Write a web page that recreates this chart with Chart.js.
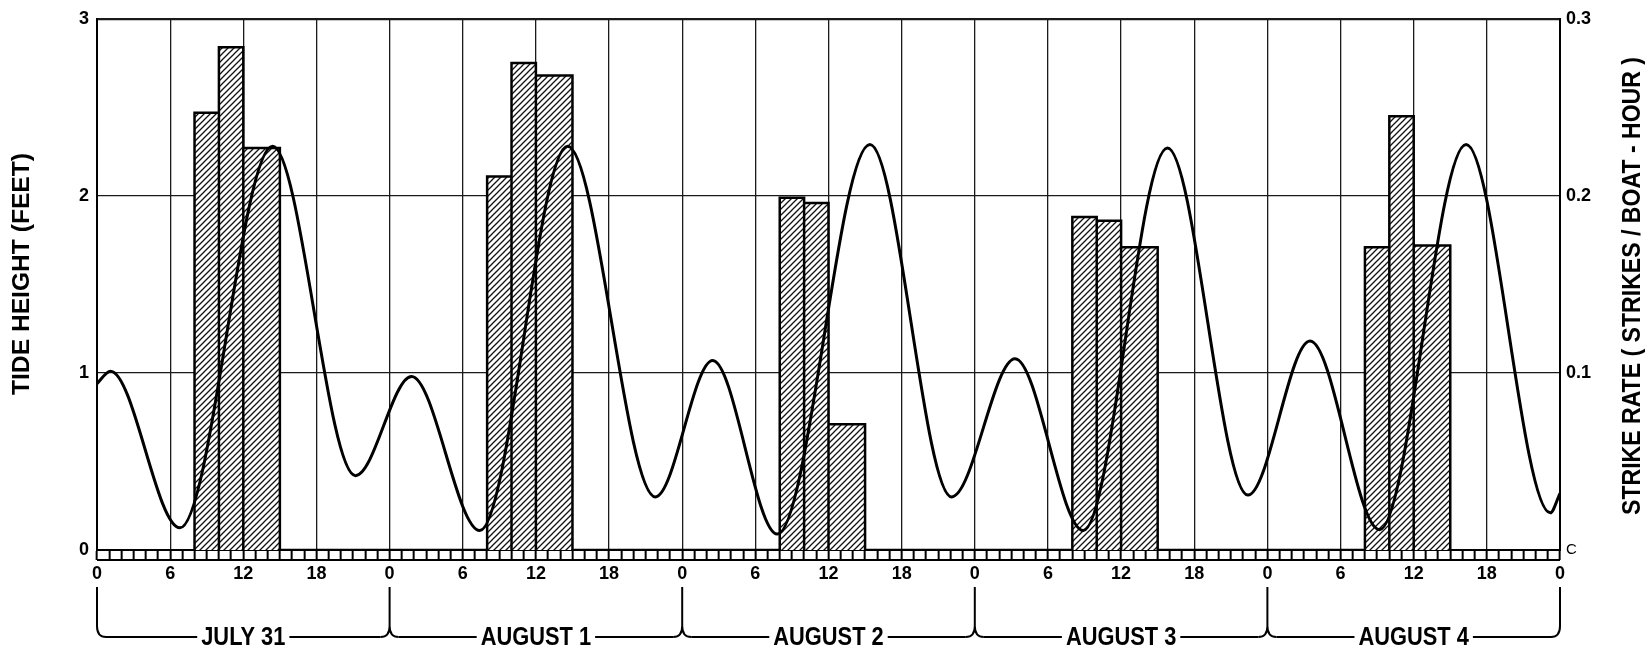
<!DOCTYPE html>
<html>
<head>
<meta charset="utf-8">
<script src="https://cdn.jsdelivr.net/npm/chart.js@4/dist/chart.umd.min.js"></script>
<style>
  html, body { margin: 0; padding: 0; background: #fff; }
</style>
</head>
<body>
<canvas id="tideChart" width="1647" height="652"></canvas>
<script>
const dayLabels = ["JULY 31", "AUGUST 1", "AUGUST 2", "AUGUST 3", "AUGUST 4"];

// tide highs and lows (hours from 0h July 31, feet)
const tideHours = [0, 1.1, 6.8, 14.4, 21.2,
    25.8, 31.4, 38.6, 45.8,
    50.5, 55.8, 63.4, 70.1,
    75.3, 80.9, 87.8, 94.4,
    99.5, 105.2, 112.3, 119.2, 120];
const tideFeet = [0.94, 1.01, 0.125, 2.28, 0.42,
    0.98, 0.11, 2.28, 0.30,
    1.07, 0.09, 2.29, 0.30,
    1.08, 0.11, 2.27, 0.31,
    1.18, 0.115, 2.29, 0.21, 0.32];

// fishing periods (hour of day) and strike rate per day
const binStart = [8, 10, 12];
const binEnd = [10, 12, 15];
const strikeRate = [
    [0.247, 0.284, 0.227],
    [0.211, 0.275, 0.268],
    [0.199, 0.196, 0.071],
    [0.188, 0.186, 0.171],
    [0.171, 0.245, 0.172]
];

const leftTicks = [0, 1, 2, 3];
const rightTicks = ["C", "0.1", "0.2", "0.3"];

const FONT = "'Liberation Sans', Arial, sans-serif";
Chart.defaults.font.family = FONT;
Chart.defaults.color = "#000";

const tidePoints = tideHours.map((h, i) => ({ x: h, y: tideFeet[i] }));

// outline of the bars, traced along the baseline from one day to the next
const barPoints = [];
dayLabels.forEach((d, i) => {
    binStart.forEach((s, j) => {
        const x0 = i * 24 + s;
        const x1 = i * 24 + binEnd[j];
        const v = strikeRate[i][j];
        barPoints.push({ x: x0, y: 0 }, { x: x0, y: v }, { x: x1, y: v }, { x: x1, y: 0 });
    });
});

function makeHatch() {
    const size = 6;
    const c = document.createElement("canvas");
    c.width = size; c.height = size;
    const g = c.getContext("2d");
    g.fillStyle = "#fff";
    g.fillRect(0, 0, size, size);
    g.strokeStyle = "#111";
    g.lineWidth = 1.3;
    g.beginPath();
    g.moveTo(-1, size + 1); g.lineTo(size + 1, -1);
    g.moveTo(-2, 2); g.lineTo(2, -2);
    g.moveTo(size - 2, size + 2); g.lineTo(size + 2, size - 2);
    g.stroke();
    return g.createPattern(c, "repeat");
}

function fitText(ctx, text, cx, cy, size, width, angle) {
    ctx.save();
    ctx.font = "bold " + size + "px " + FONT;
    ctx.translate(cx, cy);
    ctx.rotate(angle);
    ctx.scale(width / ctx.measureText(text).width, 1);
    ctx.textAlign = "center";
    ctx.textBaseline = "middle";
    ctx.fillText(text, 0, 0);
    ctx.restore();
}

const frameLabels = {
    id: "frameLabels",
    afterDraw(chart) {
        const { ctx, chartArea } = chart;
        const x = chart.scales.x;
        ctx.save();
        ctx.strokeStyle = "#000";
        ctx.fillStyle = "#000";

        // bottom rail of the hour ladder
        ctx.lineWidth = 2;
        ctx.beginPath();
        ctx.moveTo(x.left, chartArea.bottom + 10);
        ctx.lineTo(x.right, chartArea.bottom + 10);
        ctx.stroke();

        // day brackets
        const yTop = 587, yBend = 626, yLine = 637, r = 9;
        ctx.lineWidth = 2;
        ctx.beginPath();
        for (let b = 0; b <= dayLabels.length; b++) {
            const xb = x.getPixelForValue(b * 24);
            ctx.moveTo(xb, yTop);
            ctx.lineTo(xb, yBend);
            if (b > 0) {
                ctx.moveTo(xb, yBend);
                ctx.quadraticCurveTo(xb, yLine, xb - r, yLine);
            }
            if (b < dayLabels.length) {
                ctx.moveTo(xb, yBend);
                ctx.quadraticCurveTo(xb, yLine, xb + r, yLine);
            }
        }
        ctx.stroke();

        const sx = 0.84;
        ctx.font = "bold 26px " + FONT;
        dayLabels.forEach((label, i) => {
            const x0 = x.getPixelForValue(i * 24);
            const x1 = x.getPixelForValue((i + 1) * 24);
            const mid = (x0 + x1) / 2;
            const w = ctx.measureText(label).width * sx;
            ctx.beginPath();
            ctx.moveTo(x0 + r, yLine);
            ctx.lineTo(mid - w / 2 - 4, yLine);
            ctx.moveTo(mid + w / 2 + 4, yLine);
            ctx.lineTo(x1 - r, yLine);
            ctx.stroke();
            ctx.save();
            ctx.translate(mid, yLine + 1);
            ctx.scale(sx, 1);
            ctx.textAlign = "center";
            ctx.textBaseline = "middle";
            ctx.fillText(label, 0, 0);
            ctx.restore();
        });

        // axis titles, both read bottom to top
        fitText(ctx, "TIDE HEIGHT (FEET)", 22, 274, 24, 242, -Math.PI / 2);
        fitText(ctx, "STRIKE RATE ( STRIKES / BOAT - HOUR )", 1633, 286, 26, 458, -Math.PI / 2);
        ctx.restore();
    }
};

new Chart(document.getElementById("tideChart"), {
    type: "line",
    data: {
        datasets: [{
            label: "Tide height",
            data: tidePoints,
            yAxisID: "y",
            borderColor: "#000",
            borderWidth: 3,
            pointRadius: 0,
            cubicInterpolationMode: "monotone",
            fill: false,
            order: 0
        }, {
            label: "Strike rate",
            data: barPoints,
            yAxisID: "y2",
            borderColor: "#000",
            borderWidth: 2.5,
            borderJoinStyle: "miter",
            pointRadius: 0,
            tension: 0,
            fill: "origin",
            backgroundColor: makeHatch(),
            order: 1
        }]
    },
    options: {
        responsive: false,
        animation: false,
        layout: { padding: { top: 17 } },
        plugins: {
            legend: { display: false },
            tooltip: { enabled: false }
        },
        scales: {
            x: {
                type: "linear",
                min: 0,
                max: 120,
                afterFit: (s) => { s.height = 102; },
                ticks: {
                    stepSize: 1,
                    autoSkip: false,
                    maxRotation: 0,
                    padding: 3,
                    font: { size: 18, weight: "bold" },
                    callback: (v) => (v % 6 === 0 ? String(v % 24) : "")
                },
                grid: {
                    color: (c) => (c.tick && c.tick.value % 6 === 0 ? "#1a1a1a" : "rgba(0,0,0,0)"),
                    lineWidth: 1.3,
                    tickColor: "#000",
                    tickLength: 10,
                    tickWidth: 2
                },
                border: { color: "#000", width: 2 }
            },
            y: {
                position: "left",
                min: 0,
                max: 3,
                afterFit: (s) => { s.width = 97; },
                afterBuildTicks: (s) => { s.ticks = leftTicks.map((v) => ({ value: v })); },
                ticks: { padding: 8, font: { size: 18, weight: "bold" } },
                grid: {
                    color: "#1a1a1a",
                    lineWidth: (c) => (c.tick && c.tick.value === 3 ? 2.2 : 1.3),
                    drawTicks: false
                },
                border: { color: "#000", width: 2 }
            },
            y2: {
                position: "right",
                min: 0,
                max: 0.3,
                afterFit: (s) => { s.width = 87; },
                afterBuildTicks: (s) => { s.ticks = rightTicks.map((t, i) => ({ value: i / 10 })); },
                ticks: {
                    padding: 6,
                    font: (c) => (c.index === 0 ? { size: 15 } : { size: 18, weight: "bold" }),
                    callback: (v, i) => rightTicks[i]
                },
                grid: { drawOnChartArea: false, drawTicks: false },
                border: { color: "#000", width: 2 }
            }
        }
    },
    plugins: [frameLabels]
});
</script>
</body>
</html>
